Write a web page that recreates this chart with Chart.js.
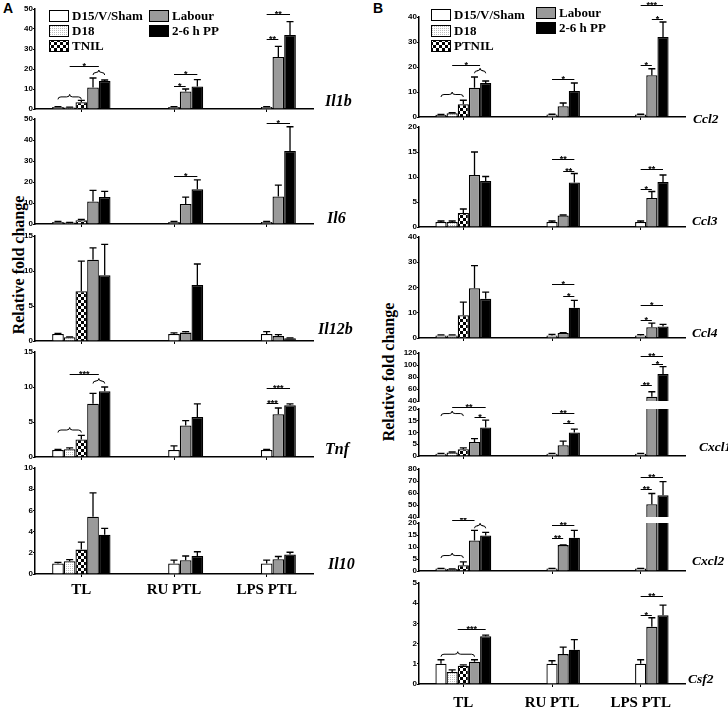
<!DOCTYPE html>
<html>
<head>
<meta charset="utf-8">
<script src="https://cdn.jsdelivr.net/npm/chart.js@4.4.1/dist/chart.umd.min.js"></script>
<style>
  body { margin: 0; width: 728px; height: 709px; position: relative; overflow: hidden; background: #fff; }
  canvas { position: absolute; }
  .panel { position: absolute; font: bold 14px "Liberation Sans", Arial, sans-serif; }
  .ytitle { position: absolute; font: bold 16px "Liberation Serif", serif; white-space: nowrap;
            transform: translate(-50%, -50%) rotate(-90deg); }
</style>
</head>
<body>
<div class="panel" style="left:3px;top:0px">A</div>
<div class="panel" style="left:373px;top:0px">B</div>
<div class="ytitle" style="left:19px;top:265px">Relative fold change</div>
<div class="ytitle" style="left:389px;top:372px">Relative fold change</div>
<script>
/* ------------------------------------------------------------
   Cytokine / chemokine mRNA, relative fold change
   rows: D15/V/Sham, D18, TNIL, Labour, 2-6 h PP
   cols: TL, RU PTL, LPS PTL
   ------------------------------------------------------------ */
const GROUPS = ["TL", "RU PTL", "LPS PTL"];
const LEGEND_A = ["D15/V/Sham", "D18", "TNIL", "Labour", "2-6 h PP"];
const LEGEND_B = ["D15/V/Sham", "D18", "PTNIL", "Labour", "2-6 h PP"];

// significance marks: [group, fromBar, toBar, value, stars]
// bar slots 0-4 inside a group (RU / LPS controls sit in slot 2)
// braces: [group, fromBar, toBar, value]

// ---- Panel A ----
const IL1B_MEAN = [[1.0, 1.0, 1.0], [0.8, null, null], [3.4, null, null], [10.8, 8.8, 26.0], [14.0, 11.3, 37.0]];
const IL1B_SEM  = [[0.2, 0.2, 0.2], [0.1, null, null], [0.9, null, null], [4.7, 1.2, 5.3], [0.5, 3.4, 6.7]];
const IL1B_SIG  = [[0, 1, 3.5, 21.7, "*"], [1, 2, 4, 17.7, "*"], [1, 2, 3, 11.7, "*"], [2, 2, 4, 47.7, "**"], [2, 2, 3, 35, "**"]];
const IL1B_BRACE = [[0, 0, 2, 4.8], [0, 3, 4, 17]];

const IL6_MEAN = [[1.0, 1.0, 1.0], [0.7, null, null], [1.8, null, null], [10.7, 9.5, 13.1], [12.8, 16.6, 34.8]];
const IL6_SEM  = [[0.2, 0.2, 0.2], [0.1, null, null], [0.4, null, null], [5.3, 3.3, 5.4], [2.7, 4.4, 11.5]];
const IL6_SIG  = [[1, 2, 4, 22.9, "*"], [2, 2, 4, 48, "*"]];

const IL12B_MEAN = [[1.0, 1.0, 1.0], [0.55, null, null], [7.1, null, null], [11.6, 1.2, 0.7], [9.4, 8.0, 0.4]];
const IL12B_SEM  = [[0.1, 0.15, 0.35], [0.05, null, null], [4.3, null, null], [1.7, 0.15, 0.2], [4.4, 3.0, 0.05]];

const TNF_MEAN = [[1.0, 1.0, 1.0], [1.1, null, null], [2.5, null, null], [7.6, 4.5, 6.1], [9.4, 5.7, 7.4]];
const TNF_SEM  = [[0.1, 0.6, 0.1], [0.2, null, null], [0.6, null, null], [1.5, 0.7, 0.9], [0.6, 1.9, 0.2]];
const TNF_SIG  = [[0, 1, 3.5, 11.8, "***"], [2, 2, 4, 9.9, "***"], [2, 2, 3, 7.7, "***"]];
const TNF_BRACE = [[0, 0, 2, 3.5], [0, 3, 4, 10.5]];

const IL10_MEAN = [[1.0, 1.0, 1.0], [1.2, null, null], [2.3, null, null], [5.4, 1.3, 1.4], [3.7, 1.7, 1.85]];
const IL10_SEM  = [[0.1, 0.3, 0.3], [0.15, null, null], [0.7, null, null], [2.25, 0.4, 0.25], [0.6, 0.4, 0.2]];

// ---- Panel B ----
const CCL2_MEAN = [[0.9, 1.0, 1.0], [1.5, null, null], [5.1, null, null], [11.7, 4.3, 16.7], [13.6, 10.4, 32.0]];
const CCL2_SEM  = [[0.1, 0.1, 0.1], [0.2, null, null], [1.6, null, null], [4.3, 1.3, 2.6], [0.8, 3.2, 6.0]];
const CCL2_SIG  = [[0, 1, 3.5, 20.7, "*"], [1, 2, 4, 15.3, "*"], [2, 2, 4, 45, "***"], [2, 3, 4, 39.3, "*"], [2, 2, 3, 21, "*"]];
const CCL2_BRACE = [[0, 0, 2, 8], [0, 3, 4, 17.5]];

const CCL3_MEAN = [[1.0, 1.0, 1.0], [1.0, null, null], [2.8, null, null], [10.4, 2.3, 5.8], [9.2, 8.9, 9.0]];
const CCL3_SEM  = [[0.2, 0.2, 0.2], [0.2, null, null], [0.8, null, null], [4.6, 0.1, 1.3], [0.9, 1.8, 1.4]];
const CCL3_SIG  = [[1, 2, 4, 13.7, "**"], [1, 3, 4, 11.2, "**"], [2, 2, 4, 11.7, "**"], [2, 2, 3, 7.7, "*"]];

const CCL4_MEAN = [[1.0, 1.0, 1.0], [1.0, null, null], [9.0, null, null], [19.7, 2.0, 4.3], [15.5, 12.0, 4.6]];
const CCL4_SEM  = [[0.2, 0.4, 0.3], [0.2, null, null], [5.2, null, null], [9.0, 0.1, 1.6], [2.7, 2.9, 0.8]];
const CCL4_SIG  = [[1, 2, 4, 21.4, "*"], [1, 3, 4, 16.8, "*"], [2, 2, 4, 12.9, "*"], [2, 2, 3, 7.2, "*"]];

const CXCL1_MEAN = [[1.0, 1.0, 1.0], [1.5, null, null], [2.9, null, null], [6.0, 4.6, 46.9], [12.1, 10.0, 85.2]];
const CXCL1_SEM  = [[0.1, 0.1, 0.1], [0.2, null, null], [0.6, null, null], [1.4, 1.7, 8.5], [3.2, 1.4, 12.0]];
const CXCL1_SIG_LOW  = [[0, 1, 4, 20.7, "**"], [0, 3, 4, 16.7, "*"], [1, 2, 4, 18.4, "**"], [1, 3, 4, 13.9, "*"]];
const CXCL1_SIG_HIGH = [[2, 2, 4, 115, "**"], [2, 3, 4, 101.7, "*"], [2, 2, 3, 66.7, "**"]];
const CXCL1_BRACE = [[0, 0, 2, 17]];

const CXCL2_MEAN = [[1.0, 1.0, 1.0], [0.8, null, null], [2.4, null, null], [12.7, 10.8, 50.6], [14.8, 13.9, 58.2]];
const CXCL2_SEM  = [[0.1, 0.1, 0.1], [0.1, null, null], [1.4, null, null], [4.2, 0.1, 9.0], [1.3, 3.0, 11.2]];
const CXCL2_SIG_LOW  = [[0, 1, 3, 21.4, "**"], [1, 2, 4, 19, "**"], [1, 2, 3, 13.7, "**"]];
const CXCL2_SIG_HIGH = [[2, 2, 4, 73.6, "**"], [2, 2, 3, 63, "**"]];
const CXCL2_BRACE = [[0, 0, 2, 5.4], [0, 3, 4, 17.8]];

const CSF2_MEAN = [[1.0, 1.0, 1.0], [0.6, null, null], [0.9, null, null], [1.1, 1.48, 2.83], [2.37, 1.7, 3.4]];
const CSF2_SEM  = [[0.2, 0.15, 0.2], [0.1, null, null], [0.05, null, null], [0.1, 0.35, 0.45], [0.05, 0.5, 0.5]];
const CSF2_SIG  = [[0, 1.5, 4, 2.7, "***"], [2, 2, 4, 4.34, "**"], [2, 2, 3, 3.44, "*"]];
const CSF2_BRACE = [[0, 0, 3, 1.35]];

// ------------------------------------------------------------
Chart.defaults.color = "#000";
Chart.defaults.font.family = "'Liberation Sans', Arial, sans-serif";

const CAT_PCT = 0.63;
const YW = 30;

function makePattern(size, draw) {
  const p = document.createElement("canvas");
  p.width = p.height = size;
  const g = p.getContext("2d");
  draw(g);
  return g.createPattern(p, "repeat");
}
const STIPPLE = makePattern(2, (g) => {
  g.fillStyle = "#fff"; g.fillRect(0, 0, 2, 2);
  g.fillStyle = "#bdbdbd"; g.fillRect(0, 0, 1, 1);
});
const CHECKER = makePattern(6, (g) => {
  g.fillStyle = "#fff"; g.fillRect(0, 0, 6, 6);
  g.fillStyle = "#000"; g.fillRect(0, 0, 3, 3); g.fillRect(3, 3, 3, 3);
});
const GREY = "#9a9a9a";
const LEGEND_FILL = ["#fff", STIPPLE, CHECKER, GREY, "#000"];
const SLOT_FILL = ["#fff", STIPPLE, [CHECKER, "#fff", "#fff"], GREY, "#000"];

// RU / LPS controls are drawn in the third slot of their group
function toSlots(rows) {
  const [sham, d18, tnil, lab, pp] = rows;
  return [
    [sham[0], null, null],
    [d18[0], null, null],
    [tnil[0], sham[1], sham[2]],
    lab.slice(),
    pp.slice(),
  ];
}

function drawBrace(ctx, x1, x2, yb) {
  const xm = (x1 + x2) / 2, h = 5, m = yb - h / 2;
  ctx.beginPath();
  ctx.moveTo(x1, yb);
  ctx.quadraticCurveTo(x1, m, x1 + 3, m);
  ctx.lineTo(xm - 3, m);
  ctx.quadraticCurveTo(xm, m, xm, yb - h);
  ctx.quadraticCurveTo(xm, m, xm + 3, m);
  ctx.lineTo(x2 - 3, m);
  ctx.quadraticCurveTo(x2, m, x2, yb);
  ctx.stroke();
}

function addChart(c) {
  const padTop = c.padTop != null ? c.padTop : 14;
  const xh = c.xLabels ? 34 : c.noX ? 0 : 4;
  const padBottom = 5;
  const canvasTop = c.top - padTop;
  const H = c.bottom - canvasTop + xh + padBottom;

  const cv = document.createElement("canvas");
  cv.width = c.width;
  cv.height = H;
  cv.style.left = c.left + "px";
  cv.style.top = canvasTop + "px";
  document.body.appendChild(cv);

  const upper = c.min > 0;
  const keep = (v) => (v == null || (upper && v <= c.min) ? null : v);
  const means = toSlots(c.mean).map((r) => r.map(keep));
  const sems = toSlots(c.sem);

  const deco = {
    id: "deco",
    afterDatasetsDraw(chart) {
      const { ctx, scales: { x, y } } = chart;
      const bw = ((x.getPixelForValue(1) - x.getPixelForValue(0)) * CAT_PCT) / 5;
      const sx = (g, s) => x.getPixelForValue(g) + (s - 2) * bw;
      ctx.save();
      ctx.strokeStyle = "#000";
      ctx.fillStyle = "#000";

      // error bars (upper half only)
      ctx.lineWidth = 1.3;
      chart.data.datasets.forEach((ds, k) => {
        chart.getDatasetMeta(k).data.forEach((bar, j) => {
          const v = ds.data[j], e = ds.errs[j];
          if (v == null || e == null || v > y.max || v < y.min) return;
          const tip = Math.min(v + e, y.max);
          const y0 = y.getPixelForValue(v), y1 = y.getPixelForValue(tip);
          ctx.beginPath();
          ctx.moveTo(bar.x, y0);
          ctx.lineTo(bar.x, y1);
          if (v + e <= y.max) {
            ctx.moveTo(bar.x - 3.5, y1);
            ctx.lineTo(bar.x + 3.5, y1);
          }
          ctx.stroke();
        });
      });

      // significance lines
      ctx.lineWidth = 1;
      ctx.font = "bold 9px 'Liberation Sans'";
      ctx.textAlign = "center";
      ctx.textBaseline = "alphabetic";
      (c.sig || []).forEach(([g, s1, s2, v, lab]) => {
        const yy = Math.round(y.getPixelForValue(v)) + 0.5;
        const x1 = sx(g, s1), x2 = sx(g, s2);
        ctx.beginPath();
        ctx.moveTo(x1, yy);
        ctx.lineTo(x2, yy);
        ctx.stroke();
        ctx.fillText(lab, (x1 + x2) / 2, yy + 2);
      });
      (c.braces || []).forEach(([g, s1, s2, v]) => {
        drawBrace(ctx, sx(g, s1), sx(g, s2), y.getPixelForValue(v));
      });

      // gene name
      if (c.gene) {
        ctx.font = "italic bold " + c.geneSize + "px 'Liberation Serif'";
        ctx.textAlign = "left";
        ctx.fillText(c.gene, c.geneX - c.left, c.geneY - canvasTop);
      }

      // legend
      if (c.legend) {
        ctx.font = "bold 13px 'Liberation Serif'";
        ctx.textAlign = "left";
        ctx.textBaseline = "middle";
        ctx.lineWidth = 1;
        c.legend.forEach((txt, i) => {
          const bx = c.legendPos[i][0] - c.left, by = c.legendPos[i][1] - canvasTop;
          ctx.fillStyle = LEGEND_FILL[i];
          ctx.fillRect(bx, by, 19, 11);
          ctx.strokeRect(bx + 0.5, by + 0.5, 19, 11);
          ctx.fillStyle = "#000";
          ctx.fillText(txt, bx + 23, by + 6.5);
        });
      }
      ctx.restore();
    },
  };

  new Chart(cv, {
    type: "bar",
    data: {
      labels: GROUPS,
      datasets: means.map((data, k) => ({
        data,
        errs: sems[k],
        backgroundColor: SLOT_FILL[k],
        borderColor: "#000",
        borderWidth: 1.3,
        barPercentage: 1,
        categoryPercentage: CAT_PCT,
        clip: 0,
      })),
    },
    options: {
      responsive: false,
      animation: false,
      devicePixelRatio: 1,
      layout: {
        padding: { left: c.plotLeft - YW, right: c.width - c.plotRight, top: padTop, bottom: padBottom },
      },
      plugins: { legend: { display: false }, tooltip: { enabled: false } },
      scales: {
        x: {
          display: !c.noX,
          ticks: {
            display: !!c.xLabels,
            autoSkip: false,
            maxRotation: 0,
            padding: c.xPad || 4,
            color: "#000",
            font: { family: "'Liberation Serif'", size: 15, weight: "bold" },
          },
          grid: { drawOnChartArea: false, offset: false, color: "#000", tickLength: 3, lineWidth: 1 },
          border: { color: "#000", width: 1.5 },
          afterFit: (s) => { s.height = xh; },
        },
        y: {
          min: c.min,
          max: c.max,
          ticks: { stepSize: c.step, autoSkip: false, padding: 0, color: "#000", font: { size: 8, weight: "bold" } },
          grid: { drawOnChartArea: false, color: "#000", tickLength: 2, lineWidth: 1 },
          border: { color: "#000", width: 1.5 },
          afterFit: (s) => { s.width = YW; },
        },
      },
    },
    plugins: [deco],
  });
}

// ------------------------------------------------------------
const A_BOX = { left: 0, width: 370, plotLeft: 35, plotRight: 313, geneSize: 16 };
const B_BOX = { left: 370, width: 358, plotLeft: 419, plotRight: 685, geneSize: 13.5 };
B_BOX.plotLeft -= B_BOX.left;
B_BOX.plotRight -= B_BOX.left;
const A_LEGEND_POS = [[49, 10], [49, 25], [49, 40], [149, 10], [149, 25]];
const B_LEGEND_POS = [[431, 9], [431, 25], [431, 40], [536, 7], [536, 22]];

// Panel A
addChart({ ...A_BOX, top: 9, bottom: 109, padTop: 9, min: 0, max: 50, step: 10, mean: IL1B_MEAN, sem: IL1B_SEM,
  sig: IL1B_SIG, braces: IL1B_BRACE, gene: "Il1b", geneX: 325, geneY: 106, legend: LEGEND_A, legendPos: A_LEGEND_POS });
addChart({ ...A_BOX, top: 119, bottom: 224, min: 0, max: 50, step: 10, mean: IL6_MEAN, sem: IL6_SEM,
  sig: IL6_SIG, gene: "Il6", geneX: 327, geneY: 223 });
addChart({ ...A_BOX, top: 236, bottom: 341, min: 0, max: 15, step: 5, mean: IL12B_MEAN, sem: IL12B_SEM,
  gene: "Il12b", geneX: 318, geneY: 334 });
addChart({ ...A_BOX, top: 352, bottom: 457, min: 0, max: 15, step: 5, mean: TNF_MEAN, sem: TNF_SEM,
  sig: TNF_SIG, braces: TNF_BRACE, gene: "Tnf", geneX: 325, geneY: 454 });
addChart({ ...A_BOX, top: 468, bottom: 574, min: 0, max: 10, step: 2, mean: IL10_MEAN, sem: IL10_SEM,
  gene: "Il10", geneX: 328, geneY: 569, xLabels: true, xPad: 4 });

// Panel B
addChart({ ...B_BOX, top: 17, bottom: 117, padTop: 17, min: 0, max: 40, step: 10, mean: CCL2_MEAN, sem: CCL2_SEM,
  sig: CCL2_SIG, braces: CCL2_BRACE, gene: "Ccl2", geneX: 693, geneY: 123, legend: LEGEND_B, legendPos: B_LEGEND_POS });
addChart({ ...B_BOX, top: 127, bottom: 227, min: 0, max: 20, step: 5, mean: CCL3_MEAN, sem: CCL3_SEM,
  sig: CCL3_SIG, gene: "Ccl3", geneX: 692, geneY: 225 });
addChart({ ...B_BOX, top: 237, bottom: 338, min: 0, max: 40, step: 10, mean: CCL4_MEAN, sem: CCL4_SEM,
  sig: CCL4_SIG, gene: "Ccl4", geneX: 692, geneY: 337 });
addChart({ ...B_BOX, top: 353, bottom: 401, min: 40, max: 120, step: 20, mean: CXCL1_MEAN, sem: CXCL1_SEM,
  sig: CXCL1_SIG_HIGH, noX: true });
addChart({ ...B_BOX, top: 409, bottom: 456, padTop: 6, min: 0, max: 20, step: 5, mean: CXCL1_MEAN, sem: CXCL1_SEM,
  sig: CXCL1_SIG_LOW, braces: CXCL1_BRACE, gene: "Cxcl1", geneX: 699, geneY: 451 });
addChart({ ...B_BOX, top: 469, bottom: 517, min: 40, max: 80, step: 10, mean: CXCL2_MEAN, sem: CXCL2_SEM,
  sig: CXCL2_SIG_HIGH, noX: true });
addChart({ ...B_BOX, top: 523, bottom: 571, padTop: 5, min: 0, max: 20, step: 5, mean: CXCL2_MEAN, sem: CXCL2_SEM,
  sig: CXCL2_SIG_LOW, braces: CXCL2_BRACE, gene: "Cxcl2", geneX: 692, geneY: 565 });
addChart({ ...B_BOX, top: 583, bottom: 684, min: 0, max: 5, step: 1, mean: CSF2_MEAN, sem: CSF2_SEM,
  sig: CSF2_SIG, braces: CSF2_BRACE, gene: "Csf2", geneX: 688, geneY: 683, xLabels: true, xPad: 7 });
</script>
</body>
</html>
